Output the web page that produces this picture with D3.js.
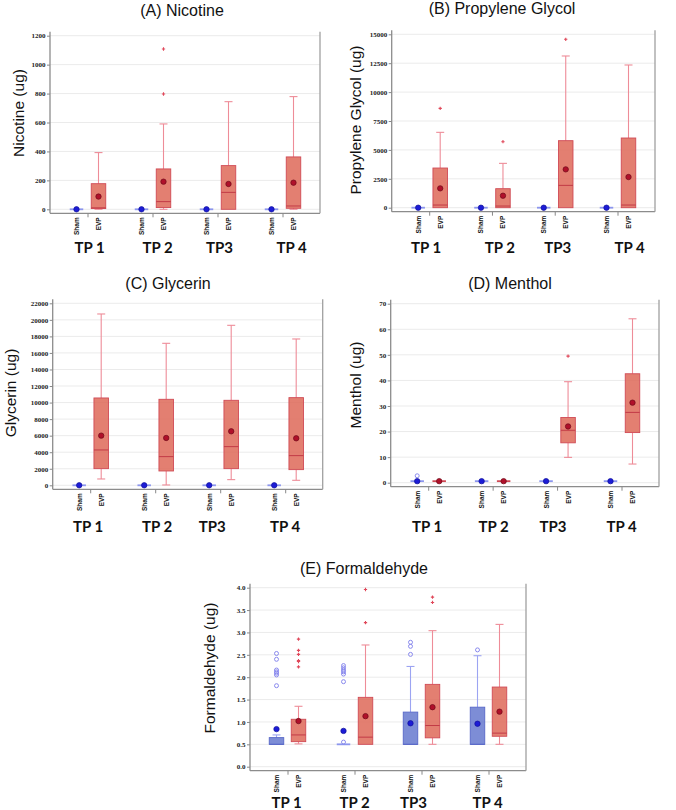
<!DOCTYPE html>
<html>
<head>
<meta charset="utf-8">
<script src="https://cdn.jsdelivr.net/npm/d3@7"></script>
<style>
  body { margin: 0; background: #fff; }
  svg { display: block; }
  .tick text { font-family: "Liberation Serif", serif; font-weight: bold; font-size: 7px; fill: #222; }
  .tick line { stroke: #888; }
</style>
</head>
<body>
<svg id="chart" width="676" height="810"></svg>
<script>
// groups / arms
const groups = ["TP 1", "TP 2", "TP3", "TP 4"];
const arms = ["Sham", "EVP"];

// each box: [whiskerLow, q1, median, q3, whiskerHigh, mean]
// order: Sham TP1, EVP TP1, Sham TP2, EVP TP2, Sham TP3, EVP TP3, Sham TP4, EVP TP4
const nicotineTicks = [0, 200, 400, 600, 800, 1000, 1200];
const nicotineStats = [
  [0, 0, 0, 0, 0, 0], [0, 5, 10, 177, 392, 88],
  [0, 0, 0, 0, 0, 0], [0, 12, 53, 279, 590, 191],
  [0, 0, 0, 0, 0, 0], [0, 0, 117, 302, 744, 175],
  [0, 0, 0, 0, 0, 0], [0, 7, 23, 362, 779, 184]
];
const nicotineOutliers = [[], [], [], [797, 1108], [], [], [], []];

const pgTicks = [0, 2500, 5000, 7500, 10000, 12500, 15000];
const pgStats = [
  [0, 0, 0, 0, 0, 0], [0, 0, 230, 3432, 6519, 1673],
  [0, 0, 0, 0, 0, 0], [0, 0, 144, 1644, 3836, 1038],
  [0, 0, 0, 0, 0, 0], [0, 0, 1932, 5798, 13124, 3317],
  [0, 0, 0, 0, 0, 0], [0, 0, 230, 6028, 12345, 2654]
];
const pgOutliers = [[], [8595], [], [5711], [], [14566], [], []];

const glycerinTicks = [0, 2000, 4000, 6000, 8000, 10000, 12000, 14000, 16000, 18000, 20000, 22000];
const glycerinStats = [
  [0, 0, 0, 0, 0, 0], [765, 2014, 4271, 10556, 20709, 6003],
  [0, 0, 0, 0, 0, 0], [40, 1732, 3465, 10395, 17163, 5721],
  [0, 0, 0, 0, 0, 0], [685, 2014, 4674, 10274, 19339, 6527],
  [0, 0, 0, 0, 0, 0], [604, 1894, 3586, 10596, 17687, 5681]
];
const glycerinOutliers = [[], [], [], [], [], [], [], []];

const mentholTicks = [0, 10, 20, 30, 40, 50, 60, 70];
const mentholStats = [
  [0.6, 0.6, 0.6, 0.6, 0.6, 0.6], [0.6, 0.6, 0.6, 0.6, 0.6, 0.6],
  [0.6, 0.6, 0.6, 0.6, 0.6, 0.6], [0.6, 0.6, 0.6, 0.6, 0.6, 0.6],
  [0.6, 0.6, 0.6, 0.6, 0.6, 0.6], [9.9, 15.6, 20.5, 25.5, 39.5, 22.0],
  [0.6, 0.6, 0.6, 0.6, 0.6, 0.6], [7.3, 19.6, 27.5, 42.6, 64.1, 31.3]
];
const mentholOutliers = [[2.7], [], [], [], [], [49.5], [], []];

const formTicks = [0, 0.5, 1.0, 1.5, 2.0, 2.5, 3.0, 3.5, 4.0];
const formStats = [
  [0.5, 0.5, 0.5, 0.65, 0.71, 0.84], [0.51, 0.56, 0.71, 1.06, 1.35, 1.02],
  [0.5, 0.5, 0.5, 0.5, 0.5, 0.80], [0.5, 0.5, 0.66, 1.55, 2.72, 1.13],
  [0.5, 0.5, 0.5, 1.22, 2.24, 0.97], [0.5, 0.645, 0.92, 1.84, 3.04, 1.33],
  [0.5, 0.5, 0.5, 1.33, 2.48, 0.96], [0.5, 0.68, 0.75, 1.78, 3.18, 1.23]
];
const formOutliers = [
  [1.81, 2.05, 2.09, 2.12, 2.16, 2.40, 2.53], [2.23, 2.35, 2.37, 2.51, 2.60, 2.85],
  [0.55, 1.90, 2.07, 2.12, 2.16, 2.21, 2.26], [3.22, 3.96],
  [2.51, 2.69, 2.78], [3.67, 3.79],
  [2.61], []
];

// layout for the five panels
const panels = [
  {title: "(A) Nicotine", ytitle: "Nicotine (ug)", ticks: nicotineTicks, fmt: d3.format("d"),
   stats: nicotineStats, outliers: nicotineOutliers,
   x0: 50, x1: 320, y0: 209.3, yTop: 35.7, titleX: 182, titleY: 16, ytX: 24, ytY: 113, tpY: 253, tpShift: [2, 5, 2, 9]},
  {title: "(B) Propylene Glycol", ytitle: "Propylene Glycol (ug)", ticks: pgTicks, fmt: d3.format("d"),
   stats: pgStats, outliers: pgOutliers,
   x0: 391.7, x1: 655, y0: 207.7, yTop: 34.3, titleX: 502, titleY: 13.5, ytX: 361, ytY: 120, tpY: 253, tpShift: [-3, 8, 3, 12]},
  {title: "(C) Glycerin", ytitle: "Glycerin (ug)", ticks: glycerinTicks, fmt: d3.format("d"),
   stats: glycerinStats, outliers: glycerinOutliers,
   x0: 52.7, x1: 322.7, y0: 485.3, yTop: 303.3, titleX: 168, titleY: 288.5, ytX: 16, ytY: 393, tpY: 532, tpShift: [-2, 2, -8, 0]},
  {title: "(D) Menthol", ytitle: "Menthol (ug)", ticks: mentholTicks, fmt: d3.format("d"),
   stats: mentholStats, outliers: mentholOutliers,
   x0: 390.7, x1: 659, y0: 482.7, yTop: 303.7, titleX: 510, titleY: 289, ytX: 361, ytY: 385, tpY: 532, tpShift: [-1, 1, -4, 0]},
  {title: "(E) Formaldehyde", ytitle: "Formaldehyde (ug)", ticks: formTicks, fmt: d3.format(".1f"),
   stats: formStats, outliers: formOutliers,
   x0: 250, x1: 526, y0: 766.7, yTop: 587.7, titleX: 364, titleY: 574, ytX: 215, ytY: 668, tpY: 808, tpShift: [-1, 0, -8, -1]}
];

const style = {
  Sham: {fill: "rgba(92,112,204,0.8)", stroke: "#5868c8", whisker: "#9ca4f2", flat: "#8c96ee",
         mean: "#1c1cd6", meanStroke: "#10109a", out: "#8a8aee"},
  EVP: {fill: "rgba(222,104,88,0.85)", stroke: "#d04a55", whisker: "#ee8c98", flat: "#d04a55",
        mean: "#b0102a", meanStroke: "#6e0a18", out: "#e0485a", median: "#c23a46"}
};

const svg = d3.select("#chart");

panels.forEach(p => {
  const g = svg.append("g");
  const top = p.yTop - 4, bottom = p.y0 + 4;
  const y = d3.scaleLinear().domain([0, p.ticks[p.ticks.length - 1]]).range([p.y0, p.yTop]);
  const xg = d3.scalePoint().domain(groups).range([p.x0 + 37.5, p.x1 - 37.5]);
  const off = {Sham: -11, EVP: 11};
  const bw = 14.5, cap = 8;

  // gridlines
  g.append("g").selectAll("line").data(p.ticks).join("line")
    .attr("x1", p.x0).attr("x2", p.x1)
    .attr("y1", d => y(d)).attr("y2", d => y(d))
    .attr("stroke", "#ebebeb").attr("stroke-width", 1);

  // frame
  g.append("line").attr("x1", p.x0).attr("x2", p.x0).attr("y1", top).attr("y2", bottom)
    .attr("stroke", "#8c8c8c").attr("stroke-width", 1.3);
  g.append("line").attr("x1", p.x0).attr("x2", p.x1).attr("y1", bottom).attr("y2", bottom)
    .attr("stroke", "#8c8c8c").attr("stroke-width", 1.3);
  g.append("line").attr("x1", p.x1).attr("x2", p.x1).attr("y1", top).attr("y2", bottom)
    .attr("stroke", "#a0a0a0").attr("stroke-width", 1.3);

  // y axis
  const ya = g.append("g").attr("transform", `translate(${p.x0},0)`)
    .call(d3.axisLeft(y).tickValues(p.ticks).tickFormat(p.fmt).tickSize(3).tickPadding(1.5));
  ya.select(".domain").remove();

  // x axis ticks between Sham / EVP
  const xa = g.append("g").attr("transform", `translate(0,${bottom})`)
    .call(d3.axisBottom(xg).tickSize(4).tickFormat(""));
  xa.select(".domain").remove();

  // boxes
  const rows = [];
  groups.forEach((tp, gi) => arms.forEach((arm, ai) => {
    const s = p.stats[gi * 2 + ai];
    rows.push({tp, arm, lo: s[0], q1: s[1], med: s[2], q3: s[3], hi: s[4], mean: s[5],
               out: p.outliers[gi * 2 + ai], cx: xg(tp) + off[arm]});
  }));

  const box = g.append("g").selectAll("g").data(rows).join("g");

  // whiskers
  box.filter(d => d.hi > d.q3).append("line")
    .attr("x1", d => d.cx).attr("x2", d => d.cx)
    .attr("y1", d => y(d.q3)).attr("y2", d => y(d.hi))
    .attr("stroke", d => style[d.arm].whisker).attr("stroke-width", 1.1);
  box.filter(d => d.hi > d.q3).append("line")
    .attr("x1", d => d.cx - cap / 2).attr("x2", d => d.cx + cap / 2)
    .attr("y1", d => y(d.hi)).attr("y2", d => y(d.hi))
    .attr("stroke", d => style[d.arm].whisker).attr("stroke-width", 1.1);
  box.filter(d => d.lo < d.q1).append("line")
    .attr("x1", d => d.cx).attr("x2", d => d.cx)
    .attr("y1", d => y(d.q1)).attr("y2", d => y(d.lo))
    .attr("stroke", d => style[d.arm].whisker).attr("stroke-width", 1.1);
  box.filter(d => d.lo < d.q1).append("line")
    .attr("x1", d => d.cx - cap / 2).attr("x2", d => d.cx + cap / 2)
    .attr("y1", d => y(d.lo)).attr("y2", d => y(d.lo))
    .attr("stroke", d => style[d.arm].whisker).attr("stroke-width", 1.1);

  // box body
  box.filter(d => d.q3 > d.q1).append("rect")
    .attr("x", d => d.cx - bw / 2).attr("width", bw)
    .attr("y", d => y(d.q3)).attr("height", d => y(d.q1) - y(d.q3))
    .attr("fill", d => style[d.arm].fill)
    .attr("stroke", d => style[d.arm].stroke).attr("stroke-width", 0.9);
  // flat boxes
  box.filter(d => d.q3 <= d.q1).append("line")
    .attr("x1", d => d.cx - bw / 2 + 0.5).attr("x2", d => d.cx + bw / 2 - 0.5)
    .attr("y1", d => y(d.q1)).attr("y2", d => y(d.q1))
    .attr("stroke", d => style[d.arm].flat).attr("stroke-width", 1.8);
  // median
  box.filter(d => d.q3 > d.q1).append("line")
    .attr("x1", d => d.cx - bw / 2).attr("x2", d => d.cx + bw / 2)
    .attr("y1", d => y(d.med)).attr("y2", d => y(d.med))
    .attr("stroke", d => d.arm === "EVP" ? style.EVP.median : style.Sham.stroke).attr("stroke-width", 1);

  // outliers
  box.each(function(d) {
    const sel = d3.select(this);
    if (d.arm === "Sham") {
      sel.selectAll("circle.out").data(d.out).join("circle").attr("class", "out")
        .attr("cx", d.cx).attr("cy", v => y(v)).attr("r", 2)
        .attr("fill", "none").attr("stroke", style.Sham.out).attr("stroke-width", 1);
    } else {
      sel.selectAll("path.out").data(d.out).join("path").attr("class", "out")
        .attr("transform", v => `translate(${d.cx},${y(v)})`)
        .attr("d", d3.symbol(d3.symbolCross, 6))
        .attr("fill", style.EVP.out);
    }
  });

  // means
  box.append("circle")
    .attr("cx", d => d.cx).attr("cy", d => y(d.mean)).attr("r", 2.7)
    .attr("fill", d => style[d.arm].mean)
    .attr("stroke", d => style[d.arm].meanStroke).attr("stroke-width", 0.7);

  // arm labels (rotated)
  g.append("g").selectAll("text").data(rows).join("text")
    .attr("transform", d => `translate(${d.cx + 2.5},${bottom + 4}) rotate(-90)`)
    .attr("text-anchor", "end")
    .style("font-family", "Liberation Sans, Arial, sans-serif")
    .style("font-weight", "bold").style("font-size", "6.5px").style("fill", "#111")
    .text(d => d.arm);

  // TP labels
  g.append("g").selectAll("text").data(groups).join("text")
    .attr("x", (d, i) => xg(d) + p.tpShift[i]).attr("y", p.tpY)
    .attr("text-anchor", "middle")
    .style("font-family", "Lato, 'Open Sans', sans-serif")
    .style("font-weight", "bold").style("font-size", "15px").style("fill", "#111")
    .text(d => d);

  // titles
  g.append("text").attr("x", p.titleX).attr("y", p.titleY).attr("text-anchor", "middle")
    .style("font-family", "Liberation Sans, Arial, sans-serif").style("font-size", "16px").style("fill", "#111")
    .text(p.title);
  g.append("text").attr("transform", `translate(${p.ytX},${p.ytY}) rotate(-90)`)
    .attr("text-anchor", "middle")
    .style("font-family", "Liberation Sans, Arial, sans-serif").style("font-size", "15.5px").style("fill", "#111")
    .text(p.ytitle);
});
</script>
</body>
</html>
